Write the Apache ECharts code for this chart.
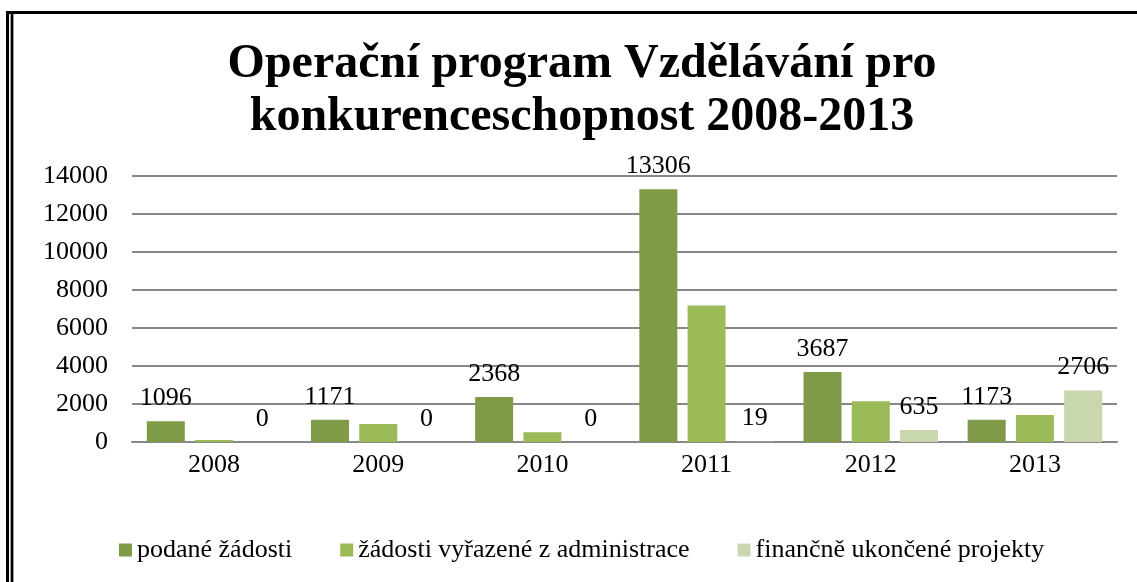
<!DOCTYPE html>
<html>
<head>
<meta charset="utf-8">
<script src="https://cdn.jsdelivr.net/npm/echarts@6/dist/echarts.min.js"></script>
<style>
html,body{margin:0;padding:0;background:#fff;}
#chart{width:1137px;height:582px;}
</style>
</head>
<body>
<div id="chart"></div>
<script>
const categories = ['2008', '2009', '2010', '2011', '2012', '2013'];
const podaneZadosti = [1096, 1171, 2368, 13306, 3687, 1173];
const vyrazeneZadosti = [100, 950, 510, 7180, 2150, 1420];
const ukonceneProjekty = [0, 0, 0, 19, 635, 2706];
const seriesNames = ['podané žádosti', 'žádosti vyřazené z administrace', 'finančně ukončené projekty'];
const yTicks = [0, 2000, 4000, 6000, 8000, 10000, 12000, 14000];

const FONT = '"Liberation Serif", "Times New Roman", serif';
const chart = echarts.init(document.getElementById('chart'), null, {renderer: 'canvas'});

const labelStyle = {
  show: true,
  position: 'top',
  distance: 10,
  color: '#000',
  fontFamily: FONT,
  fontSize: 26
};

chart.setOption({
  animation: false,
  backgroundColor: '#fff',
  title: {
    text: 'Operační program Vzdělávání pro\nkonkurenceschopnost 2008-2013',
    left: 577,
    textAlign: 'center',
    top: 33,
    textStyle: {
      fontFamily: FONT,
      fontWeight: 'bold',
      fontSize: 48,
      lineHeight: 53,
      color: '#000'
    }
  },
  legend: {
    left: 114,
    top: 532,
    itemWidth: 13,
    itemHeight: 13,
    itemGap: 48,
    icon: 'rect',
    textStyle: {fontFamily: FONT, fontSize: 26, color: '#000', padding: [0, 0, 0, 0]},
    data: seriesNames
  },
  grid: {left: 132, right: 20, top: 176, bottom: 140},
  xAxis: {
    type: 'category',
    data: categories,
    axisLine: {show: true, lineStyle: {color: '#888', width: 2}},
    axisTick: {show: false},
    axisLabel: {color: '#000', fontFamily: FONT, fontSize: 26, margin: 10}
  },
  yAxis: {
    type: 'value',
    min: yTicks[0],
    max: yTicks[yTicks.length - 1],
    interval: 2000,
    axisLine: {show: false},
    axisTick: {show: false},
    splitLine: {lineStyle: {color: '#888', width: 2}},
    axisLabel: {color: '#000', fontFamily: FONT, fontSize: 26, margin: 24, formatter: v => String(v)}
  },
  series: [
    {
      name: seriesNames[0], type: 'bar', data: podaneZadosti,
      barWidth: 38, barGap: '27%',
      itemStyle: {color: '#7f9b48'},
      label: labelStyle
    },
    {
      name: seriesNames[1], type: 'bar', data: vyrazeneZadosti,
      barWidth: 38, barGap: '27%',
      itemStyle: {color: '#9bbb59'}
    },
    {
      name: seriesNames[2], type: 'bar', data: ukonceneProjekty,
      barWidth: 38, barGap: '27%',
      itemStyle: {color: '#c8d7ae'},
      label: labelStyle
    }
  ],
  graphic: [
    {type: 'rect', shape: {x: 6, y: 11, width: 1131, height: 3}, style: {fill: '#000'}, silent: true},
    {type: 'rect', shape: {x: 6, y: 11, width: 3, height: 571}, style: {fill: '#000'}, silent: true},
    {type: 'rect', shape: {x: 10, y: 14, width: 4, height: 568}, style: {fill: '#999'}, silent: true},
    {type: 'rect', shape: {x: 11, y: 14, width: 2, height: 568}, style: {fill: '#000'}, silent: true}
  ]
});
</script>
</body>
</html>
